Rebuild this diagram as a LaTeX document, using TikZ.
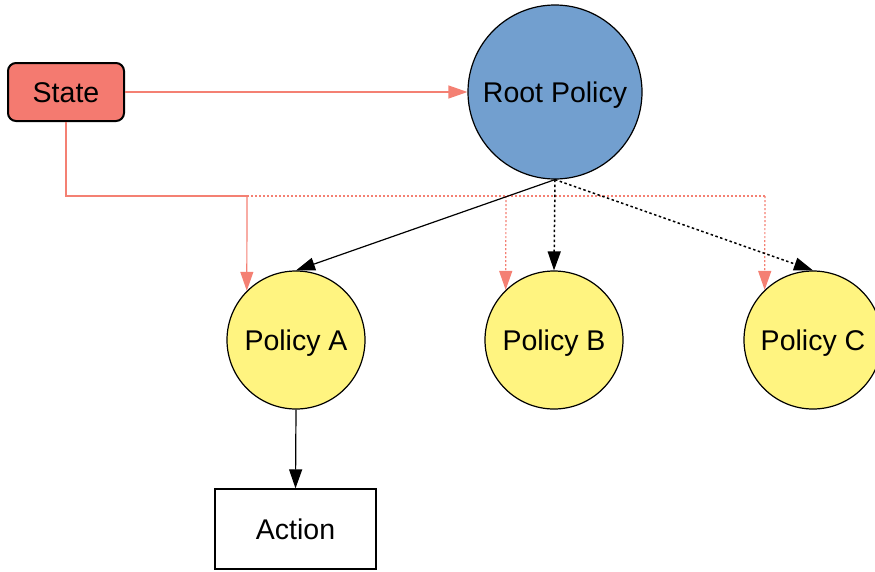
\documentclass[tikz,border=0pt]{standalone}
\usepackage{fontspec}
\setmainfont{Liberation Sans}
\usetikzlibrary{arrows.meta}
\definecolor{salfill}{RGB}{244,122,112}
\definecolor{salline}{RGB}{244,128,115}
\definecolor{rootblue}{RGB}{114,159,207}
\definecolor{polyellow}{RGB}{255,244,128}
\begin{document}
\begin{tikzpicture}[x=1pt,y=-1pt,
  every node/.style={font=\fontsize{28.5}{34}\selectfont, inner sep=0pt, text height=20.4pt, text depth=0pt},
  statebox/.style={draw=black, line width=2pt, fill=salfill, rounded corners=8pt, minimum width=116pt, minimum height=58pt},
  rootcircle/.style={circle, draw=black, line width=1.2pt, fill=rootblue, minimum size=174pt},
  polcircle/.style={circle, draw=black, line width=1.2pt, fill=polyellow, minimum size=138pt},
  actbox/.style={draw=black, line width=1.2pt, fill=white, minimum width=161pt, minimum height=80pt},
  tip/.style={-{Triangle[length=19pt,width=13pt]}},
  salarrow/.style={salline, line width=1.2pt, tip},
  saldot/.style={salline, line width=1.2pt, dash pattern=on 2pt off 2pt},
  blkarrow/.style={black, line width=1.2pt, tip},
  blkdot/.style={black, line width=1.5pt, dash pattern=on 2.5pt off 2.5pt, tip}
]
\useasboundingbox (0,0) rectangle (875,571);
\node[statebox] (state) at (66,92) {State};
\node[rootcircle] (root) at (555,92) {Root Policy};
\node[polcircle] (pa) at (296,340) {Policy A};
\node[polcircle] (pb) at (554,340) {Policy B};
\node[polcircle] (pc) at (813,340) {Policy C};
\node[actbox] (act) at (295.5,529) {Action};
\coordinate (j1) at (247,196);
\coordinate (j2) at (506,196);
\coordinate (j3) at (765,196);
% salmon connectors
\draw[salarrow] (state) -- (root);
\draw[salline, line width=1.2pt] (state.south) |- (j1);
\draw[salarrow] (j1) -- (pa.135);
\draw[saldot] (j1) -- (j3);
\draw[saldot, tip] (j2) -- (pb.134);
\draw[saldot, tip] (j3) -- (pc.134);
% black connectors
\draw[blkarrow] (root.south) -- (pa.north);
\draw[blkdot] (root.south) -- (pb.north);
\draw[blkdot] (root.south) -- (pc.north);
\draw[blkarrow] (pa.south) -- (act.north);
\end{tikzpicture}
\end{document}
